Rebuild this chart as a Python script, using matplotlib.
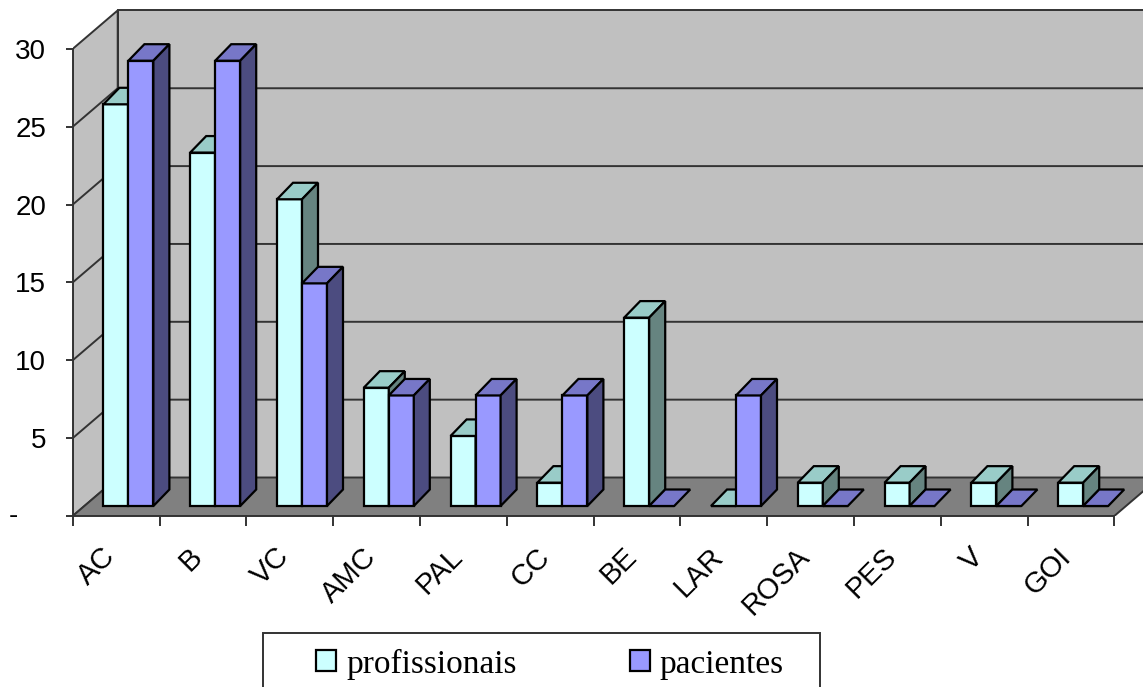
import numpy as np
import matplotlib.pyplot as plt
from matplotlib.patches import Polygon, Rectangle, Patch
from matplotlib.transforms import blended_transform_factory

plt.rcParams['font.family'] = ['Liberation Sans', 'DejaVu Sans']

categorias = ['AC', 'B', 'VC', 'AMC', 'PAL', 'CC', 'BE', 'LAR', 'ROSA', 'PES', 'V', 'GOI']
profissionais = [25.8, 22.7, 19.7, 7.6, 4.5, 1.5, 12.1, 0, 1.5, 1.5, 1.5, 1.5]
pacientes = [28.6, 28.6, 14.3, 7.1, 7.1, 7.1, 0, 7.1, 0, 0, 0, 0]
yticks = [0, 5, 10, 15, 20, 25, 30]
ytick_labels = ['', '5', '10', '15', '20', '25', '30']
series = ['profissionais', 'pacientes']

# cores: frente, topo, lado
cores = [('#ccffff', '#99ccc8', '#668480'),
         ('#9999ff', '#7777c8', '#4c4c80')]
parede = '#c0c0c0'
chao = '#808080'

W, H = 1143, 687
fig = plt.figure(figsize=(W / 100, H / 100), dpi=100)
x0_px, y0_px, ytop_px = 72.7, 516, 8
ax = fig.add_axes([x0_px / W, (H - y0_px) / H, (W - x0_px) / W, (y0_px - ytop_px) / H])
px_cat = 86.8   # pixels por categoria
px_val = 15.57  # pixels por unidade
ax.set_xlim(0, (W - x0_px) / px_cat)
ax.set_ylim(0, (y0_px - ytop_px) / px_val)

n = len(categorias)
# profundidade em unidades de dados
pdx, pdy = 45 / px_cat, 38.5 / px_val     # paredes
bfx, bfy = 12.3 / px_cat, 10 / px_val     # frente das barras
bdx, bdy = 16 / px_cat, 16.5 / px_val     # espessura das barras
larg = 25 / px_cat

borda = dict(ec='#333333', lw=1.4)
ax.add_patch(Polygon([(pdx, pdy), (n + 2, pdy), (n + 2, 30 + pdy), (pdx, 30 + pdy)],
                     fc=parede, zorder=0.5, **borda))
ax.add_patch(Polygon([(0, 0), (pdx, pdy), (pdx, 30 + pdy), (0, 30)],
                     fc=parede, zorder=0.5, **borda))
ax.add_patch(Polygon([(0, 0), (n, 0), (n + pdx, pdy), (pdx, pdy)],
                     fc=chao, zorder=0.7, **borda))
for v in yticks[1:-1]:
    ax.plot([0, pdx, n + 2], [v, v + pdy, v + pdy], color='#333333', lw=1.4, zorder=0.6)

centros = np.arange(n) + 0.5 + bfx
for s, valores in enumerate([profissionais, pacientes]):
    frente, topo, lado = cores[s]
    xs = centros - larg + s * larg
    barras = ax.bar(xs, valores, width=larg, bottom=bfy, align='edge',
                    color=frente, edgecolor='black', linewidth=1.6)
    for i, (x, h, r) in enumerate(zip(xs, valores, barras)):
        z = 2 + i * 10 + s * 3
        r.set_zorder(z)
        y = bfy + h
        ax.add_patch(Polygon([(x, y), (x + larg, y), (x + larg + bdx, y + bdy), (x + bdx, y + bdy)],
                             fc=topo, ec='black', lw=1.6, zorder=z + 1))
        if h > 0:
            ax.add_patch(Polygon([(x + larg, bfy), (x + larg + bdx, bfy + bdy),
                                  (x + larg + bdx, y + bdy), (x + larg, y)],
                                 fc=lado, ec='black', lw=1.6, zorder=z + 2))

for lado_ in ['top', 'right']:
    ax.spines[lado_].set_visible(False)
ax.spines['left'].set_bounds(0, 30)
ax.spines['bottom'].set_bounds(0, n)
for sp in ['left', 'bottom']:
    ax.spines[sp].set_linewidth(1.4)
    ax.spines[sp].set_color('#333333')
    ax.spines[sp].set_zorder(200)

ax.set_yticks(yticks, ytick_labels)
ax.tick_params(axis='y', direction='out', length=5, width=1.4, color='#333333', pad=14, labelsize=20)
ax.set_xticks(np.arange(n + 1), [''] * (n + 1))
ax.tick_params(axis='x', which='major', direction='out', length=7, width=1.4, color='#333333')
ax.set_xticks(np.arange(n) + 0.5 - 0.17, categorias, minor=True)
ax.tick_params(axis='x', which='minor', length=0, pad=19, labelsize=21, labelrotation=45)
for lab in ax.get_xticklabels(minor=True):
    lab.set_ha('right')
    lab.set_rotation_mode('anchor')

# traço do zero
trans = blended_transform_factory(fig.transFigure, ax.transData)
ax.text(9 / W, 0, '-', transform=trans, fontsize=20, ha='left', va='center')

# legenda
fig.add_artist(Rectangle((263 / W, -0.05), (820 - 263) / W, (H - 633) / H + 0.05,
                         transform=fig.transFigure, fill=False, ec='#333333', lw=1.4))
handles = [Patch(fc=cores[s][0], ec='black', lw=1.6) for s in range(2)]
fig.legend(handles, series, loc='center left', bbox_to_anchor=(316 / W, (H - 664) / H),
           ncol=2, frameon=False, prop={'family': 'Liberation Serif', 'size': 24},
           handlelength=0.6, handleheight=0.6, handletextpad=0.3, columnspacing=3.4,
           borderpad=0, borderaxespad=0)

fig.savefig('out.png', dpi=100)
